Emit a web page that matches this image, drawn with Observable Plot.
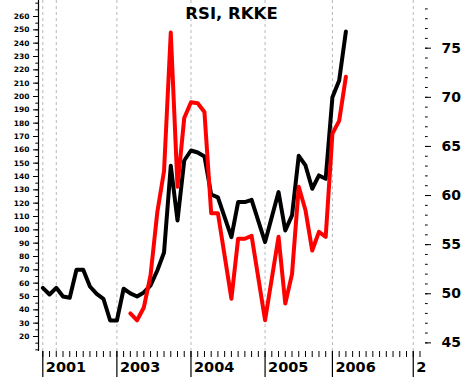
<!DOCTYPE html>
<html><head><meta charset="utf-8">
<script src="https://cdn.jsdelivr.net/npm/d3@7"></script>
<script src="https://cdn.jsdelivr.net/npm/@observablehq/plot@0.6"></script>
<style>body{margin:0;background:#fff} #chart{width:461px;height:377px}</style>
</head><body><div id="chart"></div>
<script>
// Time axis in month-steps (one minor tick per step)
const yearTicks = [0, 11, 22, 33, 43, 55];
const yearLabels = ["2001", "2003", "2004", "2005", "2006", "2"];
const gridMonths = [0, 2, 11, 22, 33, 43, 55];
const monthTicks = d3.range(0, 57);

// Left axis ticks (black series)
const leftMajor = [20, 30, 40, 50, 60, 70, 80, 90, 100, 110, 120, 130, 140, 150, 160, 170, 180, 190, 200, 210, 220, 230, 240, 250, 260];
const leftMinor = d3.range(10, 271, 5);
// Right axis ticks (red series)
const rightMajor = [45, 50, 55, 60, 65, 70, 75];
const rightMinor = d3.range(45, 80, 1);

// Black series (left axis)
const blackMonth = [0,1,2,3,4,5,6,7,8,9,10,11,12,13,14,15,16,17,18,19,20,21,22,23,24,25,26,28,29,30,31,33,35,36,37,38,39,40,41,42,43,44,45];
const blackValue = [56.5,51.5,56.5,50,49,70,70,57.5,52,48.3,32,32,55.8,52.3,50,53,58.3,69.5,83,148,107,152,159.5,158,155,126.5,124.3,94.5,120.8,120.8,122.5,90.8,128.3,99.5,110.8,155.5,148.3,130.8,140.8,138.3,199.5,212,248.8];

// Red series (right axis)
const redMonth = [13,14,15,16,17,18,19,20,21,22,23,24,25,26,28,29,30,31,33,35,36,37,38,39,40,41,42,43,44,45];
const redValue = [48.0,47.3,48.6,51.9,58.3,62.5,76.6,60.9,67.9,69.5,69.4,68.5,58.2,58.2,49.5,55.6,55.6,55.9,47.3,55.8,49.0,52.0,60.9,58.5,54.4,56.3,55.8,66.3,67.6,72.1];

// Mapping of the right axis onto the left scale
const toLeft = r => -316.3 + 7.367 * r;
const fromLeft = v => (v + 316.3) / 7.367;

const xDomain = [-0.638, 56.67];
const black = blackMonth.map((m, i) => ({m, v: blackValue[i]}));
const red = redMonth.map((m, i) => ({m, v: toLeft(redValue[i])}));

const chart = Plot.plot({
  width: 461, height: 377,
  marginLeft: 38, marginRight: 37, marginTop: 0, marginBottom: 26,
  style: {fontFamily: "DejaVu Sans", background: "white", color: "black", overflow: "visible"},
  x: {domain: xDomain},
  y: {domain: [8.75, 272]},
  marks: [
    Plot.ruleX(gridMonths, {stroke: "#b8b8b8", strokeDasharray: "3,3"}),
    Plot.ruleX([xDomain[0]], {stroke: "black", strokeWidth: 1.2}),
    Plot.axisY({ticks: leftMinor, tickSize: 2.7, tickFormat: () => "", label: null}),
    Plot.axisY({ticks: leftMajor, tickSize: 5, tickPadding: 4, fontSize: 7.5, fontWeight: "bold", label: null}),
    Plot.axisY({anchor: "right", ticks: rightMinor.map(toLeft), tickSize: 2.7, tickFormat: () => "", label: null}),
    Plot.axisY({anchor: "right", ticks: rightMajor.map(toLeft), tickSize: 6, tickPadding: 11,
      tickFormat: d => String(Math.round(fromLeft(d))), fontSize: 14, fontWeight: "bold", label: null}),
    Plot.axisX({ticks: monthTicks, tickSize: 6, tickFormat: () => "", label: null}),
    Plot.axisX({ticks: yearTicks, tickSize: 26, strokeWidth: 1.2, tickFormat: () => "", label: null}),
    Plot.axisX({ticks: yearTicks, tickSize: 0, tickPadding: 10, tickFormat: d => yearLabels[yearTicks.indexOf(d)],
      textAnchor: "start", dx: 3, fontSize: 14.5, fontWeight: "bold", label: null}),
    Plot.line(black, {x: "m", y: "v", stroke: "black", strokeWidth: 4, strokeLinejoin: "round"}),
    Plot.line(red, {x: "m", y: "v", stroke: "#ff0000", strokeWidth: 4, strokeLinejoin: "round"}),
    Plot.text(["RSI, RKKE"], {frameAnchor: "top", dy: 7, fontSize: 16.5, fontWeight: "bold"})
  ]
});
document.getElementById("chart").appendChild(chart);
</script>
</body></html>
